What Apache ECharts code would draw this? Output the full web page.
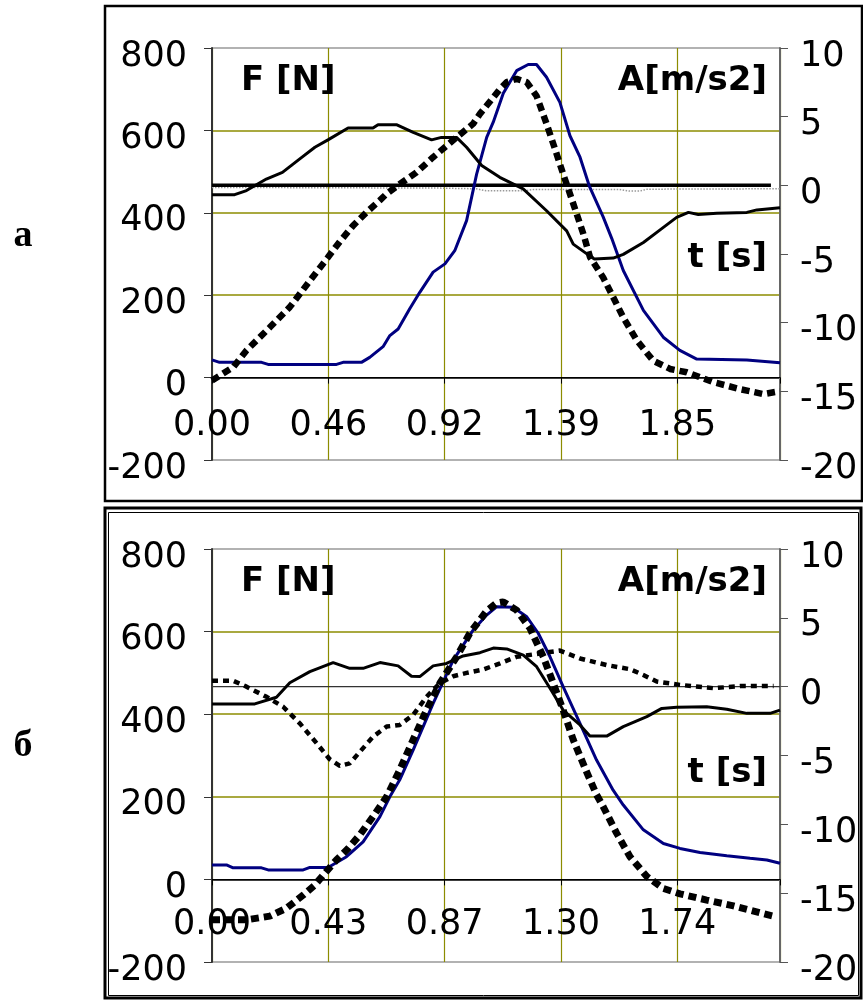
<!DOCTYPE html>
<html>
<head>
<meta charset="utf-8">
<title>F, A - t</title>
<script src="https://cdn.jsdelivr.net/npm/echarts@6/dist/echarts.min.js"></script>
<style>
  html, body { margin: 0; padding: 0; background: #fff; }
  #main { width: 863px; height: 1000px; }
</style>
</head>
<body>
<div id="main"></div>
<script>
// 时间轴刻度标签
const tStepA = 0.4625
const tStepB = 0.435
const tMaxA = 2.258
const tMaxB = 2.124
const tLabelsA = ['0.00', '0.46', '0.92', '1.39', '1.85']
const tLabelsB = ['0.00', '0.43', '0.87', '1.30', '1.74']

// 图 а : [t, F]
const aForceBlack = [[0,444],[0.09,444],[0.137,454],[0.216,482],[0.28,498],[0.349,531],[0.409,559],[0.461,577],[0.541,606],[0.64,606],[0.66,614],[0.733,614],[0.8,595],[0.873,577],[0.912,583],[0.972,583],[1.012,559],[1.072,515],[1.144,486],[1.237,458],[1.33,405],[1.41,356],[1.436,324],[1.5,296],[1.52,288],[1.595,290],[1.635,299],[1.715,328],[1.78,358],[1.847,389],[1.894,401],[1.933,396],[2.007,399],[2.126,401],[2.166,407],[2.258,412]]
const aForceBlue = [[0,43],[0.03,37],[0.197,37],[0.223,32],[0.495,32],[0.521,37],[0.594,37],[0.627,49],[0.68,75],[0.707,102],[0.74,118],[0.786,167],[0.826,207],[0.879,256],[0.926,276],[0.965,308],[1.012,381],[1.052,494],[1.092,583],[1.118,620],[1.158,690],[1.211,745],[1.257,760],[1.29,760],[1.33,729],[1.383,668],[1.423,587],[1.463,535],[1.5,465],[1.555,390],[1.589,338],[1.635,260],[1.715,163],[1.794,98],[1.86,66],[1.927,45],[2.126,43],[2.258,36]]
const aForceDash = [[0,-7],[0.084,25],[0.137,66],[0.23,122],[0.309,171],[0.389,235],[0.461,292],[0.508,330],[0.561,369],[0.614,401],[0.667,430],[0.694,446],[0.747,470],[0.813,498],[0.879,535],[0.972,583],[1.038,616],[1.065,640],[1.105,670],[1.144,700],[1.171,717],[1.211,725],[1.251,717],[1.29,684],[1.33,616],[1.37,543],[1.396,494],[1.423,446],[1.45,397],[1.476,349],[1.503,292],[1.555,243],[1.595,195],[1.635,146],[1.688,91],[1.754,41],[1.821,21],[1.887,13],[1.993,-11],[2.099,-28],[2.192,-40],[2.258,-33]]
// 图 а : [t, A]
const aAccZero = [[0,0],[2.222,0]]
const aAcc = [[0,-0.15],[0.9,-0.2],[1.05,-0.25],[1.09,-0.4],[1.24,-0.4],[1.28,-0.3],[1.62,-0.3],[1.66,-0.42],[1.7,-0.42],[1.73,-0.28],[2.258,-0.25]]

// 图 б : [t, F]
const bForceBlack = [[0,425],[0.16,425],[0.241,441],[0.291,476],[0.366,503],[0.453,525],[0.515,511],[0.565,511],[0.628,525],[0.696,517],[0.746,492],[0.777,491],[0.827,517],[0.877,523],[0.939,541],[1.002,549],[1.052,560],[1.102,558],[1.164,543],[1.214,515],[1.264,463],[1.313,410],[1.376,374],[1.413,347],[1.476,347],[1.538,370],[1.626,394],[1.682,414],[1.738,417],[1.85,418],[1.925,412],[2.0,402],[2.087,402],[2.124,410]]
const bForceBlue = [[0,35],[0.054,35],[0.079,28],[0.185,28],[0.21,23],[0.341,23],[0.366,29],[0.434,29],[0.503,55],[0.565,91],[0.628,152],[0.665,200],[0.702,241],[0.752,313],[0.827,426],[0.902,531],[0.977,604],[1.027,640],[1.064,660],[1.126,659],[1.177,636],[1.22,596],[1.264,539],[1.313,467],[1.376,378],[1.438,289],[1.5,216],[1.538,180],[1.613,120],[1.688,87],[1.75,75],[1.825,65],[1.925,57],[2.012,51],[2.075,47],[2.124,39]]
const bForceDash = [[0,-98],[0.129,-98],[0.216,-89],[0.278,-70],[0.341,-38],[0.384,-14],[0.422,15],[0.465,47],[0.509,75],[0.553,108],[0.602,152],[0.653,200],[0.702,265],[0.752,338],[0.802,410],[0.852,475],[0.915,539],[0.964,596],[1.027,650],[1.064,669],[1.089,672],[1.139,652],[1.189,608],[1.239,539],[1.276,475],[1.313,410],[1.351,338],[1.401,260],[1.438,205],[1.463,176],[1.513,112],[1.563,55],[1.626,7],[1.688,-22],[1.75,-35],[1.85,-50],[1.95,-64],[2.05,-81],[2.099,-89]]
// 图 б : [t, A]
const bAccZero = [[0,0],[2.124,0]]
const bAcc = [[0,0.43],[0.079,0.43],[0.129,0.0],[0.204,-0.74],[0.266,-1.46],[0.328,-2.66],[0.391,-4.1],[0.44,-5.27],[0.478,-5.75],[0.515,-5.57],[0.553,-4.73],[0.603,-3.62],[0.653,-2.9],[0.702,-2.78],[0.752,-2.06],[0.802,-0.74],[0.852,0.25],[0.902,0.76],[0.952,1.0],[1.014,1.25],[1.077,1.69],[1.139,2.17],[1.226,2.41],[1.301,2.62],[1.376,2.05],[1.476,1.57],[1.563,1.27],[1.613,0.85],[1.663,0.37],[1.75,0.13],[1.875,-0.11],[1.975,0.04],[2.1,0.04]]

const olive = '#8c8c00'
const labelFont = { fontFamily: 'DejaVu Sans', fontSize: 35, color: '#000' }

// x 轴放在 F=0 处 (offset 向上移)
function xAxisOf(grid, max, step, labels, offset, margin) {
  return {
    type: 'value', gridIndex: grid, min: 0, max: max, interval: step,
    position: 'bottom', offset: offset,
    axisLine: { onZero: false, lineStyle: { color: '#000', width: 1 } },
    axisTick: { show: true, length: 6, lineStyle: { color: '#000' } },
    splitLine: { show: true, lineStyle: { color: olive, width: 1.2 } },
    axisLabel: Object.assign({}, labelFont, {
      margin: margin,
      formatter: function (v) {
        const i = Math.round(v / step)
        return Math.abs(v - i * step) < 1e-6 && labels[i] ? labels[i] : ''
      }
    })
  }
}

function leftAxisOf(grid) {
  return {
    type: 'value', gridIndex: grid, position: 'left', min: -200, max: 800, interval: 200,
    axisLine: { show: true, onZero: false, lineStyle: { color: '#333', width: 2 } },
    axisTick: { show: true, length: 8, lineStyle: { color: '#333' } },
    splitLine: { show: true, lineStyle: { color: ['#999', '#000', olive, olive, olive, '#999'], width: 1.5 } },
    axisLabel: Object.assign({}, labelFont, { margin: 25, verticalAlign: 'top', lineHeight: 17 })
  }
}

function rightAxisOf(grid) {
  return {
    type: 'value', gridIndex: grid, position: 'right', min: -20, max: 10, interval: 5,
    axisLine: { show: true, onZero: false, lineStyle: { color: '#666', width: 2 } },
    axisTick: { show: true, length: 8, lineStyle: { color: '#555' } },
    splitLine: { show: false },
    axisLabel: Object.assign({}, labelFont, { margin: 20, verticalAlign: 'top', lineHeight: 17 })
  }
}

function line(data, x, y, color, width, type, z) {
  return {
    type: 'line', xAxisIndex: x, yAxisIndex: y, data: data, symbol: 'none', z: z || 2,
    lineStyle: { color: color, width: width, type: type || 'solid' }
  }
}

const titleFont = 'bold 34px "DejaVu Sans"'
function txt(text, x, y, align, font) {
  return { type: 'text', x: x, y: y, z: 100, style: { text: text, font: font || titleFont, fill: '#000', align: align, verticalAlign: 'middle' } }
}

const myChart = echarts.init(document.getElementById('main'))
const option = {
  animation: false,
  grid: [
    { left: 212, top: 48, width: 568, height: 412 },
    { left: 212, top: 549, width: 568, height: 413 }
  ],
  xAxis: [
    xAxisOf(0, tMaxA, tStepA, tLabelsA, -82.4, 31),
    xAxisOf(1, tMaxB, tStepB, tLabelsB, -82.6, 28)
  ],
  yAxis: [leftAxisOf(0), rightAxisOf(0), leftAxisOf(1), rightAxisOf(1)],
  series: [
    line(aAcc, 0, 1, '#999', 1.5, 'dotted'),
    line(aAccZero, 0, 1, '#000', 3.5),
    line(aForceBlue, 0, 0, '#000080', 3),
    line(aForceBlack, 0, 0, '#000', 3),
    line(aForceDash, 0, 0, '#000', 6.5, [8, 5], 3),

    line(bAccZero, 1, 3, '#333', 1.2),
    line(bForceBlue, 1, 2, '#000080', 3),
    line(bForceBlack, 1, 2, '#000', 3),
    line(bAcc, 1, 3, '#000', 4.5, [6, 5], 3),
    line(bForceDash, 1, 2, '#000', 7, [8, 5], 3)
  ],
  graphic: [
    // 外框
    { type: 'rect', z: 100, shape: { x: 105, y: 6, width: 757, height: 495 }, style: { fill: 'none', stroke: '#000', lineWidth: 2.5 } },
    { type: 'rect', z: 100, shape: { x: 105, y: 508, width: 756, height: 490 }, style: { fill: 'none', stroke: '#000', lineWidth: 3 } },
    { type: 'rect', z: 100, shape: { x: 108.5, y: 512.5, width: 750, height: 483 }, style: { fill: 'none', stroke: '#000', lineWidth: 1 } },
    txt('F [N]', 241, 81, 'left'),
    txt('A[m/s2]', 767, 81, 'right'),
    txt('t [s]', 767, 258, 'right'),
    txt('F [N]', 241, 582, 'left'),
    txt('A[m/s2]', 767, 582, 'right'),
    txt('t [s]', 767, 773, 'right'),
    txt('а', 23, 236, 'center', 'bold 38px "Liberation Serif", "DejaVu Serif", serif'),
    txt('б', 23, 746, 'center', 'bold 38px "Liberation Serif", "DejaVu Serif", serif')
  ]
}
myChart.setOption(option)
</script>
</body>
</html>
